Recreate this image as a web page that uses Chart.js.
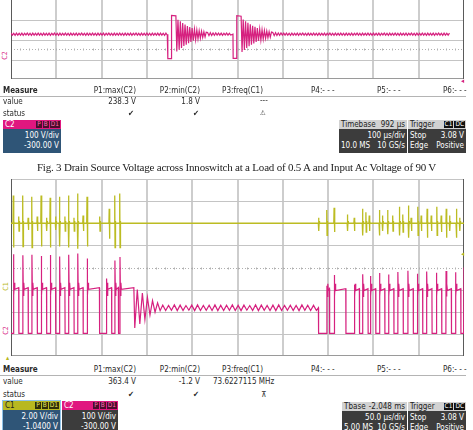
<!DOCTYPE html>
<html>
<head>
<meta charset="utf-8">
<script src="https://cdn.jsdelivr.net/npm/chart.js@4.4.1/dist/chart.umd.min.js"></script>
<style>
  html, body { margin: 0; padding: 0; background: #fff; }
  body { width: 473px; height: 430px; position: relative; overflow: hidden;
         font-family: "Liberation Sans Narrow", "DejaVu Sans Condensed", "Liberation Sans", sans-serif; }
  canvas { position: absolute; }
  .t { position: absolute; white-space: nowrap; font-size: 8px; line-height: 10px; color: #2a2a2a; }
  .b { font-weight: bold; }
  .rule { position: absolute; height: 1px; background: #b4b4b4; }
  .box { position: absolute; font-size: 8px; line-height: 9px; color: #fff; }
  .bh { height: 9px; padding: 0 2px; position: relative; display: flex; justify-content: space-between; }
  .tags { position: absolute; right: 1px; top: 1px; display: flex; gap: 1px; }
  .tags i { font-style: normal; font-size: 6.5px; line-height: 7px; padding: 0 1px; }
  .bb { padding: 2px 2px 2px; }
  .row { display: flex; justify-content: space-between; height: 10px; }
  .blue { background: #2f5577; }
  .dark { background: #3c3c3c; }
  .grey { background: #d2d2d2; color: #222; }
  .mk { position: absolute; font-size: 7px; line-height: 7px; }
  #cap { position: absolute; left: 0; top: 161px; width: 473px; text-align: center;
         font-family: "Liberation Serif", serif; font-size: 11px; color: #222; letter-spacing: -0.2px; }
</style>
</head>
<body>
<canvas id="scopeTop" width="453" height="79" style="left:11px;top:0px"></canvas>
<canvas id="scopeBottom" width="453" height="177" style="left:11px;top:179px"></canvas>

<!-- channel markers -->
<div class="mk" style="left:1px;top:52px;color:#d6217f;transform:rotate(-90deg)">C2</div>
<div class="mk" style="left:461px;top:78px;color:#d6217f">&#9666;</div>
<div class="mk" style="left:2px;top:283px;color:#b8b81e;transform:rotate(-90deg)">C1</div>
<div class="mk" style="left:2px;top:327px;color:#d6217f;transform:rotate(-90deg)">C2</div>
<div class="mk" style="left:461px;top:251px;color:#b8b81e">&#9666;</div>
<div class="mk" style="left:6px;top:355px;color:#b8b81e">&#9652;</div>

<!-- measurement table, first capture -->
<div class="t b" style="left:3px;top:86px">Measure</div>
<div class="t" style="right:337px;top:86px">P1:max(C2)</div>
<div class="t" style="right:273px;top:86px">P2:min(C2)</div>
<div class="t" style="right:210px;top:86px">P3:freq(C1)</div>
<div class="t" style="left:311px;top:86px">P4:- - -</div>
<div class="t" style="left:377px;top:86px">P5:- - -</div>
<div class="t" style="left:443px;top:86px">P6:- - -</div>
<div class="rule" style="left:0;top:96px;width:466px"></div>
<div class="t" style="left:3px;top:97px">value</div>
<div class="t" style="right:337px;top:97px">238.3 V</div>
<div class="t" style="right:273px;top:97px">1.8 V</div>
<div class="t" style="left:260px;top:96px">---</div>
<div class="t" style="left:3px;top:109px">status</div>
<div class="t" style="left:128px;top:109px">&#10004;</div>
<div class="t" style="left:193px;top:109px">&#10004;</div>
<div class="t" style="left:260px;top:108px;font-size:7px">&#9888;</div>

<div class="box" style="left:3px;top:120px;width:58px">
  <div class="bh" style="background:#e0177f">C2<span class="tags"><i style="background:#4a0d2c;color:#ff6fb0">P</i><i style="background:#4a0d2c;color:#ff6fb0">B</i><i style="background:#4a0d2c;color:#ff6fb0">D1</i></span></div>
  <div class="bb blue"><div class="row"><span></span><span>100 V/div</span></div><div class="row"><span></span><span>-300.00 V</span></div></div>
</div>
<div class="box" style="left:339px;top:120px;width:68px">
  <div class="bh grey"><span>Timebase</span><span>992 µs</span></div>
  <div class="bb dark"><div class="row"><span></span><span>100 µs/div</span></div><div class="row"><span>10.0 MS</span><span>10 GS/s</span></div></div>
</div>
<div class="box" style="left:408px;top:120px;width:58px">
  <div class="bh grey"><span>Trigger</span><span class="tags"><i style="background:#111;color:#fff">C1</i><i style="background:#111;color:#fff">DC</i></span></div>
  <div class="bb dark"><div class="row"><span>Stop</span><span>3.08 V</span></div><div class="row"><span>Edge</span><span>Positive</span></div></div>
</div>

<div id="cap">Fig. 3 Drain Source Voltage across Innoswitch at a Load of 0.5 A and Input Ac Voltage of 90 V</div>

<!-- measurement table, second capture -->
<div class="t b" style="left:3px;top:365px">Measure</div>
<div class="t" style="right:337px;top:365px">P1:max(C2)</div>
<div class="t" style="right:273px;top:365px">P2:min(C2)</div>
<div class="t" style="right:210px;top:365px">P3:freq(C1)</div>
<div class="t" style="left:311px;top:365px">P4:- - -</div>
<div class="t" style="left:377px;top:365px">P5:- - -</div>
<div class="t" style="left:443px;top:365px">P6:- - -</div>
<div class="rule" style="left:0;top:375px;width:466px"></div>
<div class="t" style="left:3px;top:377px">value</div>
<div class="t" style="right:337px;top:377px">363.4 V</div>
<div class="t" style="right:273px;top:377px">-1.2 V</div>
<div class="t" style="left:213px;top:377px">73.6227115 MHz</div>
<div class="t" style="left:3px;top:390px">status</div>
<div class="t" style="left:128px;top:390px">&#10004;</div>
<div class="t" style="left:193px;top:390px">&#10004;</div>
<div class="t" style="left:261px;top:390px">&#8892;</div>

<div class="box" style="left:3px;top:401px;width:57px;outline:1px solid #8fc3e8">
  <div class="bh" style="background:#b8b820;color:#222">C1<span class="tags"><i style="background:#2e2e08;color:#e8e860">P</i><i style="background:#2e2e08;color:#e8e860">B</i><i style="background:#2e2e08;color:#e8e860">D1</i></span></div>
  <div class="bb blue"><div class="row"><span></span><span>2.00 V/div</span></div><div class="row"><span></span><span>-1.0400 V</span></div></div>
</div>
<div class="box" style="left:62px;top:401px;width:56px">
  <div class="bh" style="background:#e0177f">C2<span class="tags"><i style="background:#4a0d2c;color:#ff6fb0">P</i><i style="background:#4a0d2c;color:#ff6fb0">B</i><i style="background:#4a0d2c;color:#ff6fb0">D1</i></span></div>
  <div class="bb dark"><div class="row"><span></span><span>100 V/div</span></div><div class="row"><span></span><span>-300.00 V</span></div></div>
</div>
<div class="box" style="left:342px;top:402px;width:65px">
  <div class="bh grey"><span>Tbase</span><span>-2.048 ms</span></div>
  <div class="bb dark"><div class="row"><span></span><span>50.0 µs/div</span></div><div class="row"><span>5.00 MS</span><span>10 GS/s</span></div></div>
</div>
<div class="box" style="left:408px;top:402px;width:58px">
  <div class="bh grey"><span>Trigger</span><span class="tags"><i style="background:#111;color:#fff">C1</i><i style="background:#111;color:#fff">DC</i></span></div>
  <div class="bb dark"><div class="row"><span>Stop</span><span>3.08 V</span></div><div class="row"><span>Edge</span><span>Positive</span></div></div>
</div>

<script>
// --- Fig. 3 capture: C2 drain-source voltage, 100 us/div (time in us, voltage in V) ---

// ripple on the flat part, one value every 3 us starting at 0 us
const topRipple0 = [141,130,140,129,141,130,140,130,141,129, 140,131,141,130,140,129,141,130,140,130,
                    141,130,140,129,141,130,140,130,141,129, 140,131,141,130,140,129,141,130,140,130,
                    141,130,140,129,141,130,140,130,141,129, 140,131,141,130,140,129,141,130,140,130,
                    141,130,140,129,141,130,140,130,141,129, 140,131,141,130,140,129,141,130,140,130,
                    141,130,140,129,141,130,140,130,141,129, 140,131,141,130,140,129,141,130,140,130,
                    141,130,140,129,141,130,140,130,141,129, 141,130,140,129,141,130];
// switching events: start of on-time, turn-off, end of the flat top
const topPulseLow = [346, 490];
const topPulseRise = [354, 498];
const topPulseEnd = [364, 508];
const topLowV = [1.8, 2.5];
const topHighV = [238.3, 236.5];
// ringing after each turn-off, one value every 2.6 us
const topRing1Start = 366;
const topRing1 = [40,214,50,205,60,196,70,188,78,180,86,174,93,168,99,162,104,158,109,154,113,151,117,148,120,146];
const topRipple1Start = 434;
const topRipple1 = [144,127,143,128,142,129,142,130,141,130,141,129,140,131,141,130,140,130];
const topRing2Start = 510;
const topRing2 = [38,215,49,206,59,197,69,189,77,181,85,175,92,169,98,163,103,159,108,155,112,152,116,149,119,147];
const topRipple2Start = 578;
const topRipple2 = [144,127,143,128,142,129,142,130,141,130,
                    141,130,140,129,141,130,140,130,141,129, 140,131,141,130,140,129,141,130,140,130,
                    141,130,140,129,141,130,140,130,141,129, 140,131,141,130,140,129,141,130,140,130,
                    141,130,140,129,141,130,140,130,141,129, 140,131,141,130,140,129,141,130,140,130,
                    141,130,140,129,141,130,140,130,141,129, 140,131,141,130,140,129,141,130,140,130,
                    141,130,140,129,141,130,140,130,141,129, 140,131,141,130,140,129,141,130,140,130,
                    141,130,140,129,141,130,140,130,141,129, 140,131,141,130,140,129,141,130,140,130,
                    141];
const topGridT = [100, 200, 300, 400, 500, 600, 700, 800, 900];   // vertical division lines (us)
const topGridV = [-5, 105, 210];                                  // horizontal division lines (V)
const topCentreV = 52;                                            // dotted centre line

// --- second capture: C1 (yellow) and C2 (pink), 50 us/div ---
const c2LeftRise  = [2.5,12.9,22.9,33.2,43.2,53.5,63.5,73.5,83.9,105.3,114.5,120.1];
const c2LeftFall  = [8.5,18.9,28.9,39.2,49.2,59.5,69.5,79.5,97.6,111.0,118.5,135.6];
const c2LeftSpike = [360,355,358,352,356,350,358,363.4,341,250,332,347];
const c2LeftPlateau = 209;
const c2RingStart = 136.6;
const c2Ring = [27,200,45,185,65,165,85,150,98,140,105];          // every 2.8 us
const c2RippleStart = 167.5;
const c2Ripple = [130,106,129,107,131,105,130,106,128,107, 130,105,131,106,129,107,130,106,131,105,
                  129,106,130,107,131,106,129,105,130,107, 128,106,131,105,130,107,129,106,130,105,
                  131,106,129,107,130,106,128,105,131,107, 130,106,129,106];   // every 3.2 us
const c2DropT = 339.3;
const c2RightRise  = [348.5,356.6,378.8,388.0,396.5,406.5,416.5,426.8,437.9,448.3,458.6,469.3,480.0,490.4];
const c2RightFall  = [351.5,369.5,384.5,394.0,402.5,412.5,422.5,432.8,443.9,454.3,464.6,475.3,486.0,496.4];
const c2RightSpike = [218,266,222,270,262,275,268,280,285,272,282,276,284,278];
const c2RightPlateau = 204;
const c2LastRise = 499.6;
const c2LastV = 300;
const c2LowV = 2;
const bottomGridT = [50, 100, 150, 200, 250, 300, 350, 400, 450];
const bottomGridV = [0, 100, 200, 400, 500, 600, 700];
const bottomCentreV = 300;

const c1Base = 5.7;
const c1SpikeT  = [2.5,8.5,12.9,18.9,22.9,28.9,33.2,39.2,43.2,49.2,53.5,59.5,63.5,69.5,73.5,79.5,83.9,97.9,108.4,114.5,120.0,
                   339.5,348.5,356.6,371.3,378.8,388.0,391.7,395.4,406.5,410.0,415.7,421.3,428.7,432.4,438.7,441.6,449.0,452.7,
                   459.3,463.8,470.0,474.8,480.4,484.1,491.5,495.2];
const c1SpikeHi = [8.2,6.3,8.2,6.2,8.1,6.3,8.2,6.2,8.0,6.3,8.1,6.3,8.2,6.2,8.4,6.4,8.1,6.3,7.0,8.2,8.4,
                   6.2,6.9,7.1,6.5,6.2,7.0,6.7,6.4,6.9,6.4,6.9,6.4,7.2,6.5,7.3,6.2,7.2,6.4,
                   7.0,6.4,7.2,6.4,7.0,6.4,7.0,6.2];
const c1SpikeLo = [3.5,5.0,3.6,5.1,3.5,5.0,3.6,5.0,3.5,5.1,3.6,5.0,3.5,5.0,3.4,5.0,3.6,5.0,4.3,3.5,3.5,
                   5.0,4.6,4.9,5.0,5.0,4.6,4.9,5.0,4.6,5.0,4.7,5.0,4.6,4.9,4.4,5.0,4.6,5.0,
                   4.4,5.0,4.6,4.9,4.4,5.0,4.4,5.0];

const PINK = '#d6217f';
const YELLOW = '#bcbc22';
const GRID = '#c4c4c4';
const GRID_V = '#cdcdcd';

// points spaced evenly in time
function series(start, step, vals) {
    return vals.map((v, i) => ({ x: start + i * step, y: v }));
}

// top trace
const topPts = [];
function addTopPulse(i) {
    topPts.push({ x: topPulseLow[i], y: 135 }, { x: topPulseLow[i] + 0.4, y: topLowV[i] },
                { x: topPulseRise[i], y: topLowV[i] }, { x: topPulseRise[i] + 0.4, y: topHighV[i] },
                { x: topPulseEnd[i], y: topHighV[i] - 3 });
}
topPts.push(...series(0, 3, topRipple0));
addTopPulse(0);
topPts.push(...series(topRing1Start, 2.6, topRing1));
topPts.push(...series(topRipple1Start, 3, topRipple1));
addTopPulse(1);
topPts.push(...series(topRing2Start, 2.6, topRing2));
topPts.push(...series(topRipple2Start, 3, topRipple2));

// bottom C2 trace
const c2Pts = [{ x: 0, y: c2LowV }];
function addPulse(rise, fall, spike, plateau, close) {
    c2Pts.push({ x: rise, y: c2LowV }, { x: rise + 0.2, y: spike }, { x: rise + 0.7, y: plateau - 35 },
               { x: rise + 1.2, y: plateau + 22 }, { x: rise + 1.7, y: plateau - 8 }, { x: fall, y: plateau });
    if (close) c2Pts.push({ x: fall + 0.2, y: c2LowV });
}
c2LeftRise.forEach((r, i) => addPulse(r, c2LeftFall[i], c2LeftSpike[i], c2LeftPlateau, i < c2LeftRise.length - 1));
c2Pts.push(...series(c2RingStart, 2.8, c2Ring));
c2Pts.push(...series(c2RippleStart, 3.2, c2Ripple));
c2Pts.push({ x: c2DropT, y: 118 }, { x: c2DropT + 0.2, y: c2LowV });
c2RightRise.forEach((r, i) => addPulse(r, c2RightFall[i], c2RightSpike[i], c2RightPlateau, true));
c2Pts.push({ x: c2LastRise, y: c2LowV }, { x: 500, y: c2LastV });

// bottom C1 trace
const c1Pts = [{ x: 0, y: c1Base }];
c1SpikeT.forEach((t, i) => {
    c1Pts.push({ x: t - 0.3, y: c1Base }, { x: t, y: c1SpikeHi[i] }, { x: t + 0.35, y: c1SpikeLo[i] },
               { x: t + 0.7, y: c1Base + 0.2 }, { x: t + 1.0, y: c1Base });
});
c1Pts.push({ x: 500, y: c1Base });

// scope graticule: division lines placed through the chart scales, frame,
// dotted centre line with sub-division marks
const graticule = {
    id: 'graticule',
    beforeDatasetsDraw(chart, args, opts) {
        const { left, right, top, bottom } = chart.chartArea;
        const xs = chart.scales.x, ys = chart.scales.y;
        const ctx = chart.ctx;
        const px = v => Math.round(v) + 0.5;
        ctx.save();

        // vertical division lines (a little soft, like the scope photo)
        ctx.lineWidth = 2;
        ctx.strokeStyle = GRID_V;
        ctx.beginPath();
        opts.times.forEach(t => {
            const x = Math.round(xs.getPixelForValue(t));
            ctx.moveTo(x, top);
            ctx.lineTo(x, bottom);
        });
        ctx.stroke();

        ctx.lineWidth = 1;
        ctx.strokeStyle = GRID;
        ctx.beginPath();
        opts.lines.forEach(v => {
            const y = px(ys.getPixelForValue(v));
            ctx.moveTo(left, y);
            ctx.lineTo(right, y);
        });
        ctx.stroke();

        const yc = px(ys.getPixelForValue(opts.centre));
        ctx.strokeStyle = '#b0b0b0';
        ctx.setLineDash([1, 2]);
        ctx.beginPath();
        ctx.moveTo(left, yc);
        ctx.lineTo(right, yc);
        ctx.stroke();
        ctx.setLineDash([]);
        const step = (right - left) / 50;
        ctx.beginPath();
        for (let i = 1; i < 50; i++) {
            const x = px(left + i * step);
            ctx.moveTo(x, yc - 1);
            ctx.lineTo(x, yc + 1);
        }
        ctx.stroke();

        // frame: dark sides, grey bottom
        ctx.strokeStyle = '#9a9a9a';
        ctx.beginPath();
        ctx.moveTo(left, px(bottom) - 1);
        ctx.lineTo(right, px(bottom) - 1);
        ctx.stroke();
        ctx.strokeStyle = '#5a5a5a';
        ctx.beginPath();
        ctx.moveTo(px(left), top);
        ctx.lineTo(px(left), bottom);
        ctx.moveTo(px(right) - 1, top);
        ctx.lineTo(px(right) - 1, bottom);
        ctx.stroke();
        ctx.restore();
    }
};

function xScale(max) {
    return { type: 'linear', min: 0, max: max, display: false };
}

const common = {
    responsive: false,
    animation: false,
    layout: { padding: 0 },
    elements: { point: { radius: 0 }, line: { tension: 0 } }
};

new Chart(document.getElementById('scopeTop'), {
    type: 'line',
    data: { datasets: [{ data: topPts, borderColor: PINK, borderWidth: 1.2 }] },
    options: {
        ...common,
        plugins: { legend: { display: false }, tooltip: { enabled: false },
                   graticule: { times: topGridT, lines: topGridV, centre: topCentreV } },
        scales: {
            x: xScale(1000),
            y: { min: -110, max: 322, display: false }
        }
    },
    plugins: [graticule]
});

new Chart(document.getElementById('scopeBottom'), {
    type: 'line',
    data: {
        datasets: [
            { data: c1Pts, borderColor: YELLOW, borderWidth: 1.3, yAxisID: 'y1' },
            { data: c2Pts, borderColor: PINK, borderWidth: 1.2, yAxisID: 'y' }
        ]
    },
    options: {
        ...common,
        plugins: { legend: { display: false }, tooltip: { enabled: false },
                   graticule: { times: bottomGridT, lines: bottomGridV, centre: bottomCentreV } },
        scales: {
            x: xScale(500),
            y: { min: -100, max: 700, display: false },
            y1: { min: -6.3, max: 9.7, display: false }
        }
    },
    plugins: [graticule]
});
</script>
</body>
</html>
